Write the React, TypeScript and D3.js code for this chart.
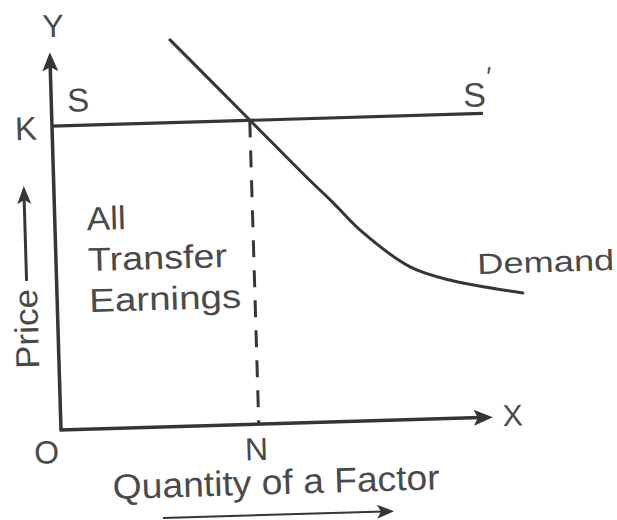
import React from 'react';
import * as d3 from 'd3';

const W = 617;
const H = 520;

// Data space: quantity (0-100) on X, price (0-100) on Y
const supplyPrice = 80.4; // level K
const supplyQty = [0, 99.8];
const equilibriumQty = 45.8; // point N
const demandQty = [27.9, 45.8, 58.0, 64.5, 70.6, 81.9, 91.0, 107.8];
const demandPrice = [102.3, 80.5, 65.6, 58.0, 50.5, 40.4, 36.6, 32.6];
const areaLines = ['All', 'Transfer', 'Earnings'];
const areaLineWidths = [39, 139, 152];

const INK = '#363636';
const TXT = '#4a4a4a';
const FONT = '"Liberation Sans", Arial, Helvetica, sans-serif';

export default function App() {
  const x = d3.scaleLinear().domain([0, 100]).range([61, 493]);
  const y = d3.scaleLinear().domain([0, 100]).range([430, 52]);

  const demandPts: [number, number][] = demandQty.map((q, i) => [q, demandPrice[i]]);
  const demandPath = d3
    .line<[number, number]>()
    .x((d) => x(d[0]))
    .y((d) => y(d[1]))
    .curve(d3.curveCatmullRom.alpha(0.5))(demandPts) as string;

  const x0 = x(0);
  const y0 = y(0);
  const yTop = y(100);
  const xEnd = x(100);
  const yK = y(supplyPrice);
  const xN = x(equilibriumQty);

  // arrow head helpers (tip point, direction)
  const headUp = (cx: number, tip: number, len: number, half: number) =>
    `M${cx},${tip} L${cx + half},${tip + len} L${cx},${tip + len - 4} L${cx - half},${tip + len} Z`;
  const headRight = (tip: number, cy: number, len: number, half: number) =>
    `M${tip},${cy} L${tip - len},${cy - half} L${tip - len + 4},${cy} L${tip - len},${cy + half} Z`;

  const priceX = x0 - 30;
  const priceTip = y(64.8);
  const priceBase = y(39.7);

  const qArrowL = x(23);
  const qArrowR = x(76.5);
  const qArrowY = y0 + 91;

  return (
    <svg
      width={W}
      height={H}
      viewBox={`0 0 ${W} ${H}`}
      style={{ position: 'absolute', left: 0, top: 0, background: '#fff' }}
      fontFamily={FONT}
    >
      <rect width={W} height={H} fill="#fff" />
      <g transform={`rotate(-1.7 ${x0} ${y0})`}>
        {/* Y axis */}
        <line x1={x0} y1={y0} x2={x0} y2={yTop + 12} stroke={INK} strokeWidth={3.5} />
        <path d={headUp(x0, yTop, 19, 8)} fill={INK} />
        {/* X axis */}
        <line x1={x0 - 1.5} y1={y0} x2={xEnd - 12} y2={y0} stroke={INK} strokeWidth={3.5} />
        <path d={headRight(xEnd, y0, 19, 8)} fill={INK} />

        {/* Supply line SS' at K */}
        <line x1={x(supplyQty[0])} y1={yK} x2={x(supplyQty[1])} y2={yK} stroke={INK} strokeWidth={3.2} />

        {/* Dashed line at N */}
        <line x1={xN} y1={yK} x2={xN} y2={y0} stroke={INK} strokeWidth={3} strokeDasharray="17,13" />

        {/* Demand curve */}
        <path d={demandPath} fill="none" stroke={INK} strokeWidth={3} strokeLinecap="round" />

        {/* Labels */}
        <g fill={TXT}>
          <text x={x0 + 4} y={yTop - 15} fontSize={32} textAnchor="middle">Y</text>
          <text x={x0 + 27} y={yK - 14} fontSize={33} textAnchor="middle">S</text>
          <text x={x0 - 26} y={yK + 13} fontSize={33} textAnchor="middle">K</text>
          <text x={x(supplyQty[1]) - 8} y={yK - 7} fontSize={34} textAnchor="middle">S</text>
          <text x={x(supplyQty[1]) + 7} y={yK - 28} fontSize={26} textAnchor="middle">′</text>

          {areaLines.map((t, i) => (
            <text
              key={t}
              x={x0 + 32}
              y={231 + i * 41}
              fontSize={33}
              textLength={areaLineWidths[i]}
              lengthAdjust="spacingAndGlyphs"
            >
              {t}
            </text>
          ))}

          <text x={482} y={286.5} fontSize={29} textLength={137} lengthAdjust="spacingAndGlyphs">
            Demand
          </text>

          <text
            x={0}
            y={0}
            transform={`translate(${priceX + 10},${328}) rotate(-90)`}
            fontSize={33}
            textAnchor="middle"
            textLength={80}
            lengthAdjust="spacingAndGlyphs"
          >
            Price
          </text>

          <text x={x0 - 15} y={y0 + 33} fontSize={32} textAnchor="middle">O</text>
          <text x={xN - 3} y={y0 + 36} fontSize={32} textAnchor="middle">N</text>
          <text x={xEnd + 20} y={y0 + 9} fontSize={30} textAnchor="middle">X</text>

          <text x={x0 + 50} y={y0 + 70.5} fontSize={35} textLength={327} lengthAdjust="spacingAndGlyphs">
            Quantity of a Factor
          </text>
        </g>

        {/* Price arrow */}
        <line x1={priceX} y1={priceBase} x2={priceX} y2={priceTip + 12} stroke={INK} strokeWidth={3} />
        <path d={headUp(priceX, priceTip, 18, 7)} fill={INK} />

        {/* Quantity arrow */}
        <line x1={qArrowL} y1={qArrowY} x2={qArrowR - 10} y2={qArrowY} stroke={INK} strokeWidth={2} />
        <path d={headRight(qArrowR, qArrowY, 17, 7)} fill={INK} />
      </g>
    </svg>
  );
}
